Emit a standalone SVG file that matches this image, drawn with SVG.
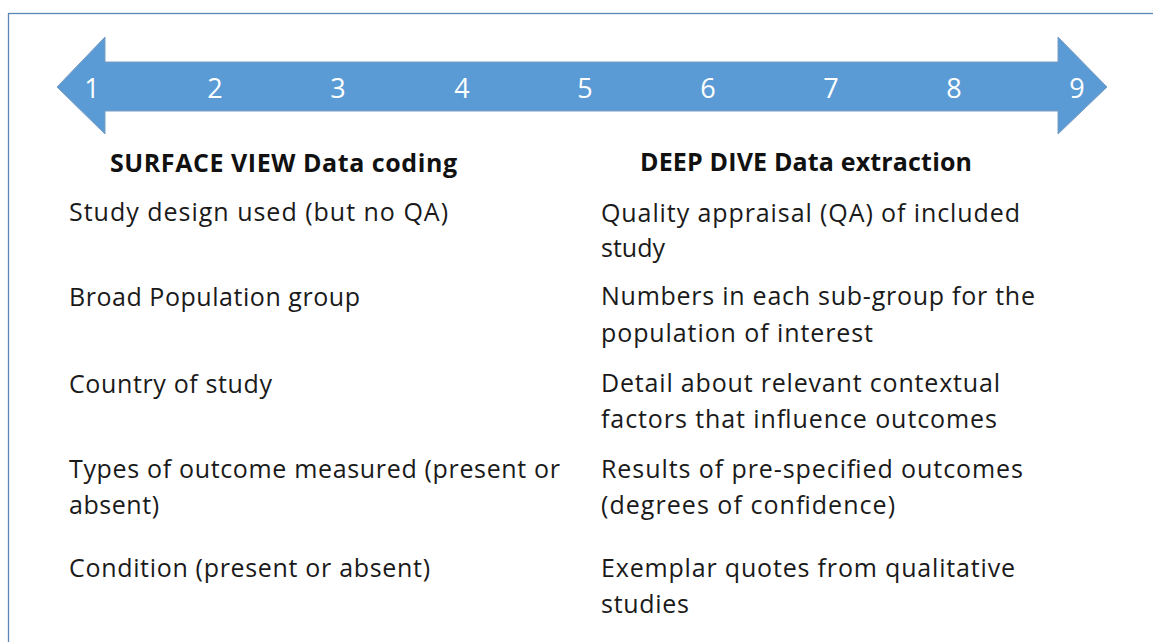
<svg xmlns="http://www.w3.org/2000/svg" width="1153" height="642" viewBox="0 0 1153 642">
<style>
.body{font-family:"Open Sans","Liberation Sans",sans-serif;font-size:25px;fill:#1a1a1a}
.head{font-family:"Open Sans","Liberation Sans",sans-serif;font-size:25px;font-weight:bold;fill:#111}
.num{font-family:"Open Sans","Liberation Sans",sans-serif;font-size:27px;fill:#ffffff;text-anchor:middle}
</style>
<rect width="1153" height="642" fill="#ffffff"/>
<rect id="frame" x="8.5" y="13.5" width="1160" height="650" fill="none" stroke="#5a86b8" stroke-width="1.3"/>
<g id="scale-arrow">
<polygon points="57,87 105,37 105,62 1058,62 1058,37 1107,87 1058,134 1058,111 105,111 105,134" fill="#5b9bd5" stroke="#7b9cc2" stroke-width="1"/>
<text class="num" x="92" y="98">1</text>
<text class="num" x="215" y="98">2</text>
<text class="num" x="338" y="98">3</text>
<text class="num" x="462" y="98">4</text>
<text class="num" x="585" y="98">5</text>
<text class="num" x="708" y="98">6</text>
<text class="num" x="831" y="98">7</text>
<text class="num" x="954" y="98">8</text>
<text class="num" x="1077" y="98">9</text>
</g>
<g id="surface-view">
<text class="head" x="110" y="172" textLength="347">SURFACE VIEW Data coding</text>
<text class="body" x="69" y="221" textLength="379">Study design used (but no QA)</text>
<text class="body" x="69" y="306" textLength="291">Broad Population group</text>
<text class="body" x="69" y="393" textLength="203">Country of study</text>
<text class="body" x="69" y="478" textLength="491">Types of outcome measured (present or</text>
<text class="body" x="69" y="514" textLength="90">absent)</text>
<text class="body" x="69" y="577" textLength="361">Condition (present or absent)</text>
</g>
<g id="deep-dive">
<text class="head" x="640" y="171" textLength="332">DEEP DIVE Data extraction</text>
<text class="body" x="601" y="222" textLength="419">Quality appraisal (QA) of included</text>
<text class="body" x="601" y="257" textLength="64">study</text>
<text class="body" x="601" y="305" textLength="434">Numbers in each sub-group for the</text>
<text class="body" x="601" y="342" textLength="272">population of interest</text>
<text class="body" x="601" y="392" textLength="399">Detail about relevant contextual</text>
<text class="body" x="601" y="428" textLength="396">factors that influence outcomes</text>
<text class="body" x="601" y="478" textLength="422">Results of pre-specified outcomes</text>
<text class="body" x="601" y="514" textLength="294">(degrees of confidence)</text>
<text class="body" x="601" y="577" textLength="414">Exemplar quotes from qualitative</text>
<text class="body" x="601" y="613" textLength="88">studies</text>
</g>
</svg>
